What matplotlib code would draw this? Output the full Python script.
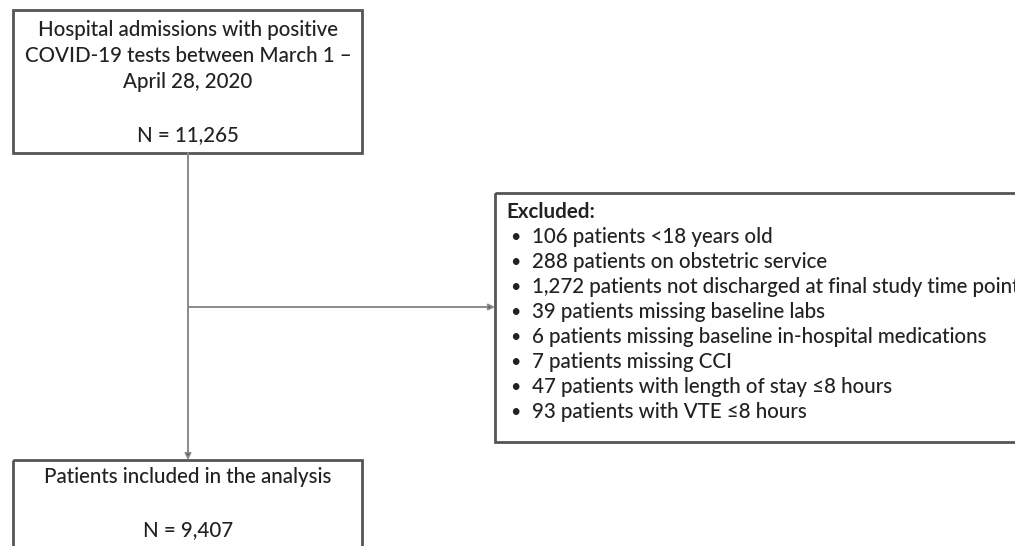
import matplotlib
matplotlib.use("Agg")
from matplotlib import pyplot as plt
from matplotlib.patches import Rectangle

plt.rcParams['font.family'] = ['Lato', 'DejaVu Sans']

top_lines = ["Hospital admissions with positive",
             "COVID-19 tests between March 1 \u2013",
             "April 28, 2020"]
top_n = "N = 11,265"
bottom_title = "Patients included in the analysis"
bottom_n = "N = 9,407"
excluded_title = "Excluded:"
excluded_items = ["106 patients <18 years old",
                  "288 patients on obstetric service",
                  "1,272 patients not discharged at final study time point",
                  "39 patients missing baseline labs",
                  "6 patients missing baseline in-hospital medications",
                  "7 patients missing CCI",
                  "47 patients with length of stay \u22648 hours",
                  "93 patients with VTE \u22648 hours"]

txt = "#222222"
edge = "#555555"
line = "#8a8a8a"
fs = 14.8
fw = "medium"

fig = plt.figure(figsize=(10.15, 5.46), dpi=100)
ax = fig.add_axes([0, 0, 1, 1])
ax.set_xlim(0, 1015)
ax.set_ylim(546, 0)
ax.axis("off")

# boxes
ax.add_patch(Rectangle((13, 10), 349, 143, fill=False, ec=edge, lw=2))
ax.add_patch(Rectangle((13, 460), 349, 120, fill=False, ec=edge, lw=2))
ax.add_patch(Rectangle((495, 193), 560, 249, fill=False, ec=edge, lw=2))

# connectors
ax.annotate("", xy=(188, 460), xytext=(188, 153),
            arrowprops=dict(arrowstyle="-|>", color=line, lw=1.4, mutation_scale=9,
                            shrinkA=0, shrinkB=0, fc="#222222"))
ax.annotate("", xy=(495, 307), xytext=(188, 307),
            arrowprops=dict(arrowstyle="-|>", color=line, lw=1.4, mutation_scale=9,
                            shrinkA=0, shrinkB=0, fc="#222222"))

# top box text
for i, s in enumerate(top_lines):
    ax.text(188, 30 + i * 26, s, ha="center", va="center", fontsize=fs, color=txt, fontweight=fw)
ax.text(188, 135, top_n, ha="center", va="center", fontsize=fs, color=txt, fontweight=fw)

# bottom box text
ax.text(188, 477, bottom_title, ha="center", va="center", fontsize=fs, color=txt, fontweight=fw)
ax.text(188, 530, bottom_n, ha="center", va="center", fontsize=fs, color=txt, fontweight=fw)

# excluded list
ax.text(506, 212, excluded_title, ha="left", va="center", fontsize=fs, color=txt,
        fontweight="bold")
for i, s in enumerate(excluded_items):
    y = 237 + i * 25
    ax.text(510, y, "\u2022", ha="left", va="center", fontsize=fs - 2, color=txt)
    ax.text(532, y, s, ha="left", va="center", fontsize=fs, color=txt, fontweight=fw)

fig.savefig("out.png", dpi=100)
